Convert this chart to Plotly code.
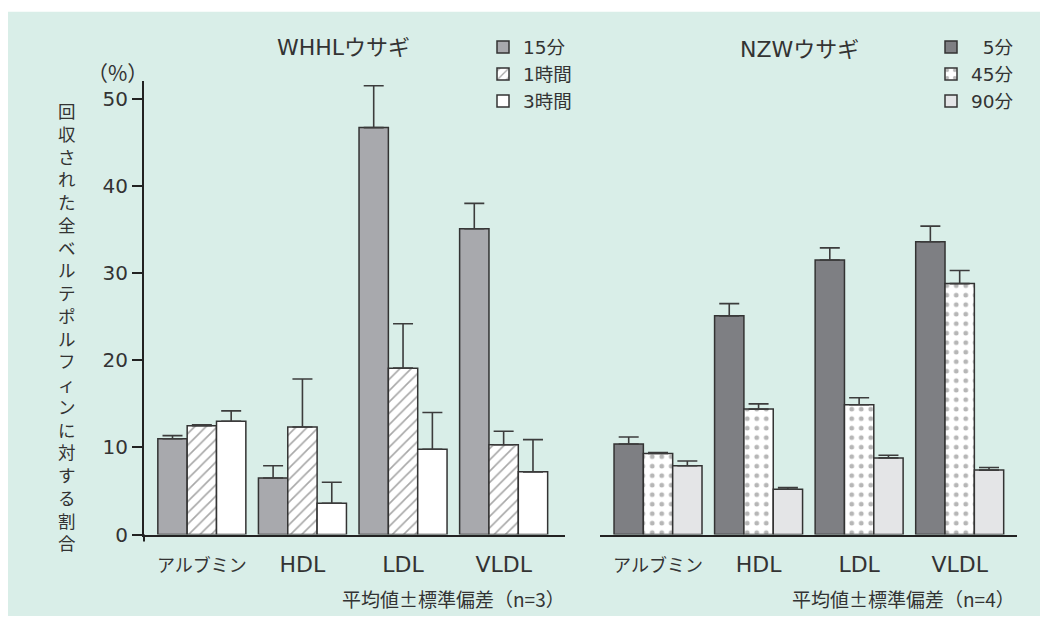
import plotly.graph_objects as go

# ---- data -------------------------------------------------------------
categories = ["アルブミン", "HDL", "LDL", "VLDL"]

whhl_15min = [11.0, 6.5, 46.7, 35.1]
whhl_15min_sd = [0.35, 1.4, 4.8, 2.9]
whhl_1h = [12.5, 12.35, 19.1, 10.3]
whhl_1h_sd = [0.1, 5.5, 5.1, 1.55]
whhl_3h = [13.0, 3.6, 9.8, 7.2]
whhl_3h_sd = [1.2, 2.4, 4.2, 3.7]

nzw_5min = [10.4, 25.1, 31.5, 33.6]
nzw_5min_sd = [0.8, 1.4, 1.4, 1.8]
nzw_45min = [9.3, 14.4, 14.9, 28.8]
nzw_45min_sd = [0.12, 0.6, 0.8, 1.5]
nzw_90min = [7.9, 5.2, 8.8, 7.4]
nzw_90min_sd = [0.55, 0.2, 0.3, 0.3]

y_ticks = [0, 10, 20, 30, 40, 50]
y_title = "回収された全ベルテポルフィンに対する割合"

# ---- style --------------------------------------------------------------
W, H = 1040, 628
FONT = "DejaVu Sans, Noto Sans CJK JP, sans-serif"
JP = "Noto Sans CJK JP, sans-serif"
TXT = "#333333"
EDGE = "#333333"
BG = "#d9eee8"


def px_x(v):
    return v / W


def px_y(v):
    return 1 - v / H


def err(sd):
    return dict(type="data", array=sd, arrayminus=[0] * len(sd), symmetric=False,
                color="#3c3c3c", thickness=1.6, width=10)


def bar(name, y, sd, xa, ya, legend, color, pattern=None):
    marker = dict(color=color, line=dict(color=EDGE, width=1.5))
    if pattern:
        marker["pattern"] = pattern
    return go.Bar(name=name, x=categories, y=y, error_y=err(sd), marker=marker,
                  xaxis=xa, yaxis=ya, legend=legend)


def cat_label(c):
    # kana labels are set a little smaller than the Latin ones
    if any(ord(ch) > 0x2000 for ch in c):
        return f"<span style='font-size:18px'>{c}</span>"
    return c


fig = go.Figure()

fig.add_trace(bar("15分", whhl_15min, whhl_15min_sd, "x", "y", "legend", "#a8a9ad"))
fig.add_trace(bar("1時間", whhl_1h, whhl_1h_sd, "x", "y", "legend", "#ffffff",
                  dict(shape="/", fgcolor="#505050", bgcolor="#ffffff", size=8, solidity=0.2)))
fig.add_trace(bar("3時間", whhl_3h, whhl_3h_sd, "x", "y", "legend", "#ffffff"))

fig.add_trace(bar("\u20075分", nzw_5min, nzw_5min_sd, "x2", "y2", "legend2", "#7e7f83"))
fig.add_trace(bar("45分", nzw_45min, nzw_45min_sd, "x2", "y2", "legend2", "#ffffff",
                  dict(shape=".", fgcolor="#6e6e6e", bgcolor="#ffffff", size=9.5, solidity=0.2)))
fig.add_trace(bar("90分", nzw_90min, nzw_90min_sd, "x2", "y2", "legend2", "#e4e5e7"))

y_bottom, y_top = 545, 83
y_max = 52.0

xaxis_common = dict(
    type="category", showline=True, linecolor="#222222", linewidth=2,
    ticks="outside", ticklen=9, tickcolor="rgba(0,0,0,0)",
    tickvals=categories, ticktext=[cat_label(c) for c in categories],
    tickfont=dict(family=FONT, size=22, color=TXT), showgrid=False, zeroline=False,
    fixedrange=True,
)

legend_common = dict(xanchor="left", yanchor="top", bgcolor="rgba(0,0,0,0)",
                     font=dict(family=FONT, size=18.5, color=TXT),
                     traceorder="normal", itemclick=False)

fig.update_layout(
    width=W, height=H,
    margin=dict(l=0, r=0, t=0, b=0),
    paper_bgcolor="#ffffff",
    plot_bgcolor="rgba(0,0,0,0)",
    barmode="group", bargap=0.125, bargroupgap=0,
    font=dict(family=FONT, color=TXT),
    xaxis=dict(domain=[px_x(144), px_x(565)], range=[-0.575, 3.61], anchor="y", **xaxis_common),
    yaxis=dict(domain=[px_y(y_bottom), px_y(y_top)], range=[0, y_max], anchor="x",
               showline=True, linecolor="#222222", linewidth=2,
               ticks="outside", ticklen=10, tickwidth=2, tickcolor="#222222",
               tickvals=y_ticks, tickfont=dict(family=FONT, size=20, color=TXT),
               showgrid=False, zeroline=False, fixedrange=True),
    xaxis2=dict(domain=[px_x(600), px_x(1017)], range=[-0.577, 3.57], anchor="y2", **xaxis_common),
    yaxis2=dict(domain=[px_y(y_bottom), px_y(y_top)], range=[0, y_max], anchor="x2",
                visible=False, fixedrange=True),
    legend=dict(x=px_x(483), y=px_y(29), **legend_common),
    legend2=dict(x=px_x(931), y=px_y(29), **legend_common),
    shapes=[
        # mint panel behind everything
        dict(type="rect", xref="paper", yref="paper", x0=px_x(8), x1=1, y0=0, y1=px_y(12),
             fillcolor=BG, line=dict(width=0), layer="below"),
        # short stub of the value axis below the baseline
        dict(type="line", xref="paper", yref="paper", x0=px_x(144), x1=px_x(144),
             y0=px_y(545), y1=px_y(552), line=dict(color="#222222", width=2)),
    ],
)

# vertical (upright) axis title: one character per line
v_title = "<br>".join(y_title)

annotations = [
    dict(text="WHHLウサギ", x=px_x(343), y=px_y(48), font=dict(family=FONT, size=22, color=TXT)),
    dict(text="NZWウサギ", x=px_x(799), y=px_y(50), font=dict(family=FONT, size=22, color=TXT)),
    dict(text="（%）", x=px_x(117), y=px_y(73), font=dict(family=JP, size=21, color=TXT)),
    dict(text="平均値±標準偏差（n=3）", x=px_x(567), y=px_y(610), xanchor="right",
         font=dict(family=JP, size=19, color=TXT)),
    dict(text="平均値±標準偏差（n=4）", x=px_x(1017), y=px_y(610), xanchor="right",
         font=dict(family=JP, size=19, color=TXT)),
    dict(text=v_title, x=px_x(66.5), y=px_y(333), font=dict(family=JP, size=17.5, color=TXT)),
]

for a in annotations:
    a.setdefault("xanchor", "center")
    a.update(xref="paper", yref="paper", yanchor="middle", showarrow=False)

fig.update_layout(annotations=annotations)

fig.write_html("out.html")
